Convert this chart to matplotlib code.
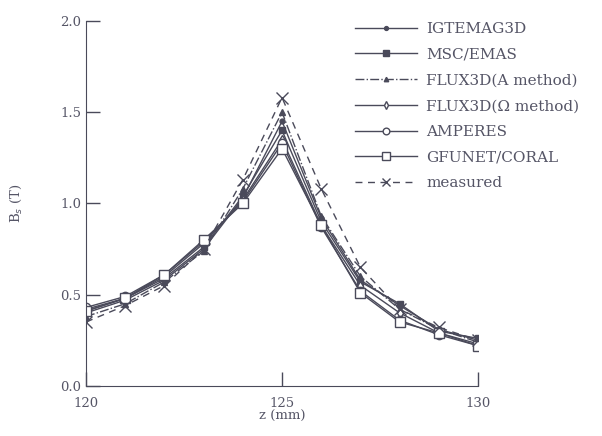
import matplotlib.pyplot as plt
import numpy as np

# z positions (mm)
z = [120, 121, 122, 123, 124, 125, 126, 127, 128, 129, 130]

# flux density Bs (T) for each code / measurement
igtemag3d = [0.40, 0.47, 0.58, 0.75, 1.03, 1.45, 0.92, 0.58, 0.44, 0.31, 0.25]
msc_emas = [0.41, 0.48, 0.59, 0.76, 1.04, 1.40, 0.90, 0.57, 0.45, 0.30, 0.26]
flux3d_a = [0.38, 0.45, 0.57, 0.74, 1.08, 1.50, 0.93, 0.60, 0.42, 0.31, 0.24]
flux3d_o = [0.42, 0.48, 0.60, 0.78, 1.02, 1.35, 0.88, 0.55, 0.40, 0.29, 0.23]
amperes = [0.43, 0.49, 0.61, 0.79, 1.01, 1.33, 0.87, 0.52, 0.36, 0.28, 0.22]
gfunet = [0.41, 0.48, 0.61, 0.80, 1.00, 1.30, 0.88, 0.51, 0.35, 0.29, 0.22]
measured = [0.35, 0.44, 0.55, 0.75, 1.13, 1.58, 1.08, 0.65, 0.42, 0.32, 0.25]

plt.rcParams['font.family'] = ['DejaVu Serif']
col = "#4a4a5a"
txt = "#555566"

fig = plt.figure(figsize=(6.02, 4.36), dpi=100)
ax = fig.add_axes([0.143, 0.115, 0.651, 0.837])

ax.plot(z, igtemag3d, color=col, lw=1.0, marker="o", ms=3.5, mfc=col, label="IGTEMAG3D")
ax.plot(z, msc_emas, color=col, lw=1.0, marker="s", ms=5, mfc=col, label="MSC/EMAS")
ax.plot(z, flux3d_a, color=col, lw=1.0, ls="-.", marker="^", ms=4, mfc=col, label="FLUX3D(A method)")
ax.plot(z, flux3d_o, color=col, lw=1.0, marker="d", ms=5, mfc="white", label="FLUX3D(\u03a9 method)")
ax.plot(z, amperes, color=col, lw=1.0, marker="o", ms=6, mfc="white", label="AMPERES")
ax.plot(z, gfunet, color=col, lw=1.0, marker="s", ms=7, mfc="white", label="GFUNET/CORAL")
ax.plot(z, measured, color=col, lw=1.0, ls=(0, (5, 4)), marker="x", ms=8, label="measured")

ax.set_xlim(120, 130)
ax.set_ylim(0, 2.0)
ax.set_xticks([120, 125, 130])
ax.set_yticks(np.arange(0, 2.01, 0.5))
ax.set_yticklabels(["0.0", "0.5", "1.0", "1.5", "2.0"])
ax.tick_params(direction="in", length=10, width=1, color=col, labelcolor=txt, labelsize=9.5)
ax.tick_params(axis="x", pad=8)
for s in ["top", "right"]:
    ax.spines[s].set_visible(False)
for s in ["left", "bottom"]:
    ax.spines[s].set_color(col)

ax.set_xlabel("z (mm)", color=txt, fontsize=9.5, labelpad=0)
ax.set_ylabel("B$_s$ (T)", color=txt, fontsize=9.5, labelpad=26)

leg = ax.legend(loc="upper left", bbox_to_anchor=(0.65, 1.035), frameon=False,
                handlelength=4.1, handletextpad=0.6, labelspacing=0.77,
                markerscale=0.8, fontsize=11, labelcolor=txt)

fig.savefig("out.png", dpi=100)
